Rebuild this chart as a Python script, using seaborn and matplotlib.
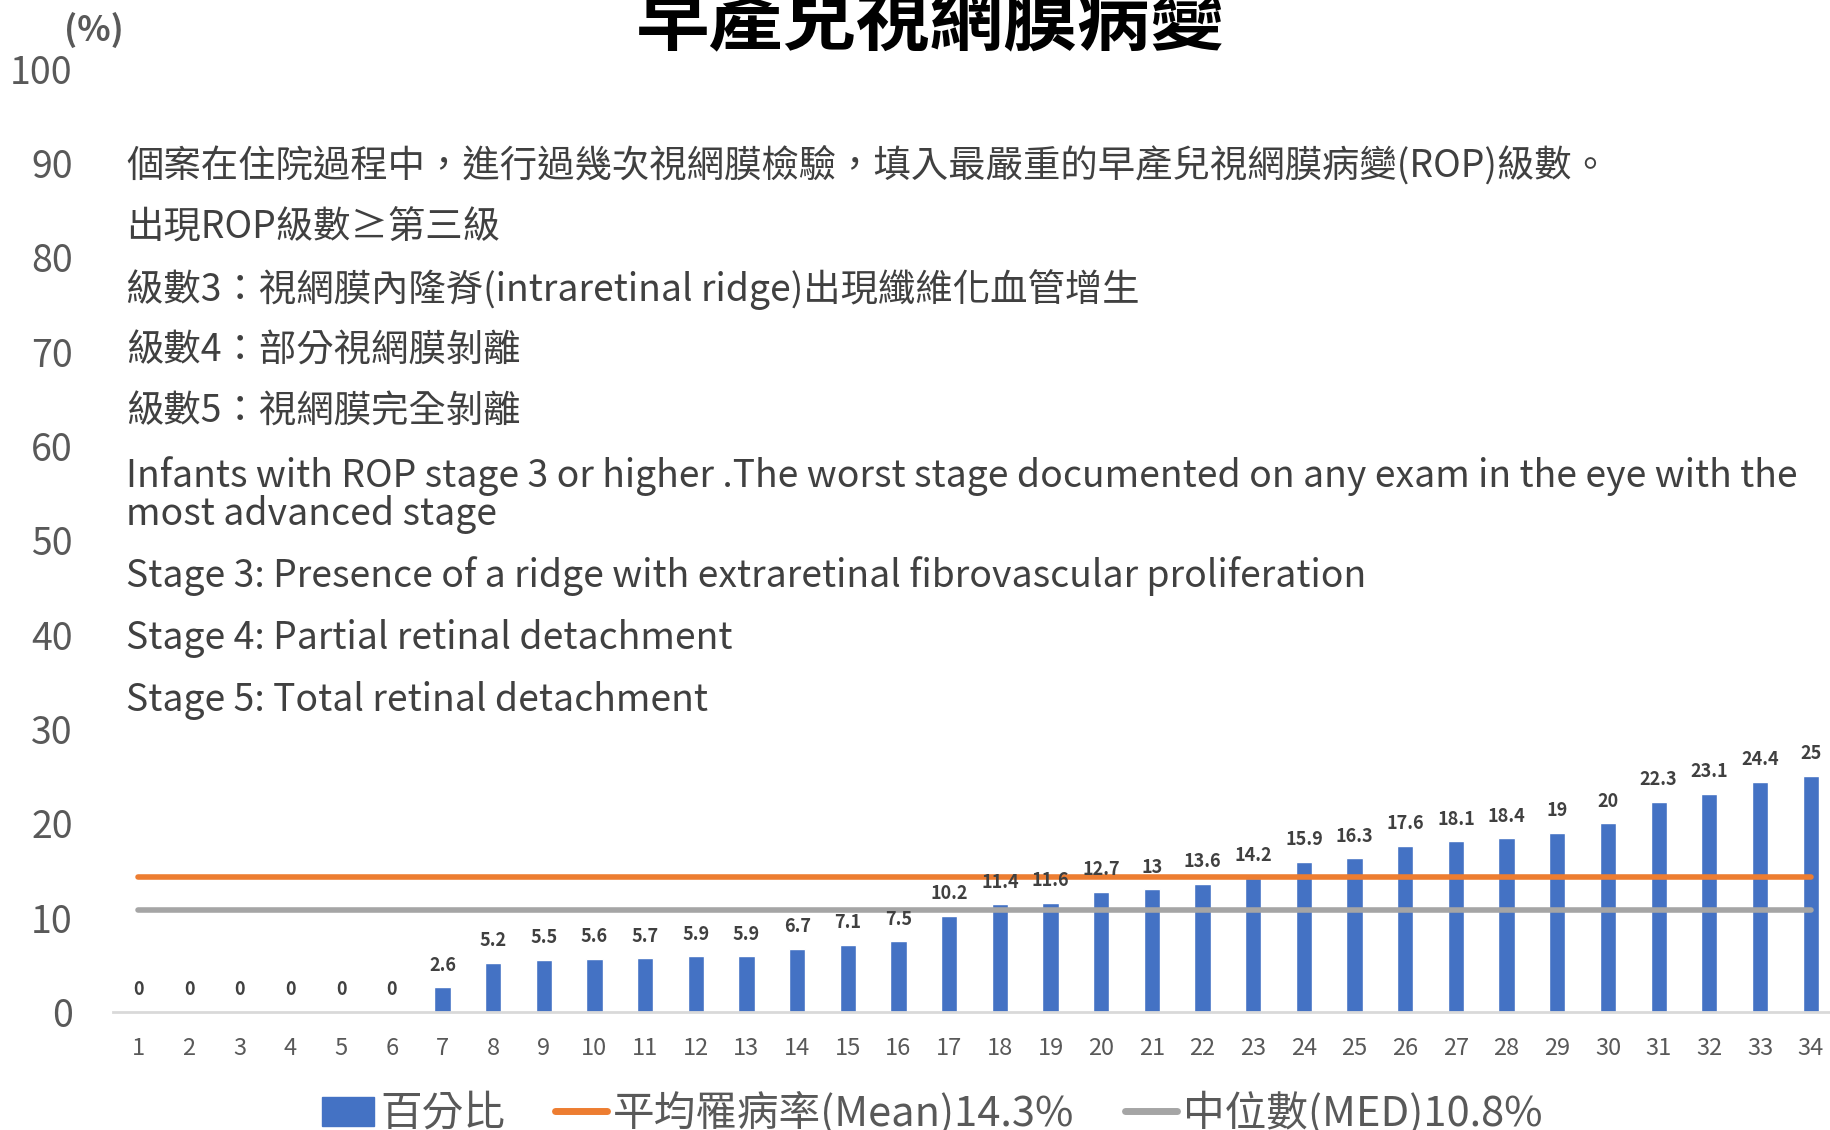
import numpy as np
import pandas as pd
import matplotlib
matplotlib.use('Agg')
import matplotlib.pyplot as plt
from matplotlib.patches import Patch
from matplotlib.lines import Line2D
import seaborn as sns

# Chart data
categories = [str(i) for i in range(1, 35)]
percent = [0, 0, 0, 0, 0, 0, 2.6, 5.2, 5.5, 5.6, 5.7, 5.9, 5.9, 6.7, 7.1, 7.5,
           10.2, 11.4, 11.6, 12.7, 13, 13.6, 14.2, 15.9, 16.3, 17.6, 18.1, 18.4,
           19, 20, 22.3, 23.1, 24.4, 25]
mean_rate = 14.3
median_rate = 10.8
y_ticks = list(range(0, 101, 10))

title = '早產兒視網膜病變'
unit_label = '(%)'
legend_labels = ['百分比', '平均罹病率(Mean)14.3%', '中位數(MED)10.8%']
note_lines = [
    '個案在住院過程中，進行過幾次視網膜檢驗，填入最嚴重的早產兒視網膜病變(ROP)級數。',
    '出現ROP級數≥第三級',
    '級數3：視網膜內隆脊(intraretinal ridge)出現纖維化血管增生',
    '級數4：部分視網膜剝離',
    '級數5：視網膜完全剝離',
    'Infants with ROP stage 3 or higher .The worst stage documented on any exam in the eye with the',
    'most advanced stage',
    'Stage 3: Presence of a ridge with extraretinal fibrovascular proliferation',
    'Stage 4: Partial retinal detachment',
    'Stage 5: Total retinal detachment',
]
note_y_px = [166, 228, 290, 351, 412, 476, 515, 576, 638, 700]

df = pd.DataFrame({'week': categories, 'pct': percent})
df['mean'] = mean_rate
df['median'] = median_rate
df['pos'] = np.arange(len(categories))

sns.set_theme(style='white')
plt.rcParams['font.family'] = ['Noto Sans CJK TC', 'DejaVu Sans']

W, H = 1830, 1130
fig = plt.figure(figsize=(W / 100, H / 100), dpi=100)
ax = fig.add_axes([113 / W, 1 - 1012 / H, (1836 - 113) / W, (1012 - 68.7) / H])

blue, orange, gray = '#4472C4', '#ED7D31', '#A5A5A5'

sns.barplot(data=df, x='week', y='pct', color=blue, width=0.32, saturation=1, ax=ax)
sns.lineplot(data=df, x='pos', y='mean', color=orange, linewidth=4, ax=ax,
             solid_capstyle='round')
sns.lineplot(data=df, x='pos', y='median', color=gray, linewidth=4, ax=ax,
             solid_capstyle='round')

for i, v in enumerate(percent):
    ax.annotate(f'{v:g}', (i, v), xytext=(0, 16), textcoords='offset points',
                ha='center', va='center', fontsize=13, fontweight='bold', color='#404040')

ax.set_xlim(-0.5, len(categories) - 0.5)
ax.set_ylim(0, 100)
ax.set_yticks(y_ticks)
ax.set_yticklabels([str(t) for t in y_ticks], fontsize=27, color='#595959')
ax.tick_params(axis='y', length=0, pad=29)
ax.tick_params(axis='x', length=0, pad=18, labelsize=17, labelcolor='#595959')
ax.set_xlabel('')
ax.set_ylabel('')
for s in ['top', 'right', 'left']:
    ax.spines[s].set_visible(False)
ax.spines['bottom'].set_color('#D9D9D9')
ax.spines['bottom'].set_linewidth(2)

fig.text(930 / W, 1 - 23 / H, title, ha='center', va='center', fontsize=53,
         fontweight='bold', color='black')
fig.text(94 / W, 1 - 30 / H, unit_label, ha='center', va='center', fontsize=25,
         fontweight='bold', color='#595959')

for line, ypx in zip(note_lines, note_y_px):
    fig.text(126 / W, 1 - ypx / H, line, ha='left', va='center', fontsize=26.9,
             color='#404040')

handles = [Patch(facecolor=blue, edgecolor=blue),
           Line2D([0], [0], color=orange, linewidth=5, solid_capstyle='round'),
           Line2D([0], [0], color=gray, linewidth=5, solid_capstyle='round')]
fig.legend(handles, legend_labels, loc='center', bbox_to_anchor=(932 / W, 1 - 1113 / H),
           ncol=3, frameon=False, fontsize=30, labelcolor='#595959',
           handlelength=1.25, handletextpad=0.15, columnspacing=1.2)

fig.savefig('out.png', dpi=100)
